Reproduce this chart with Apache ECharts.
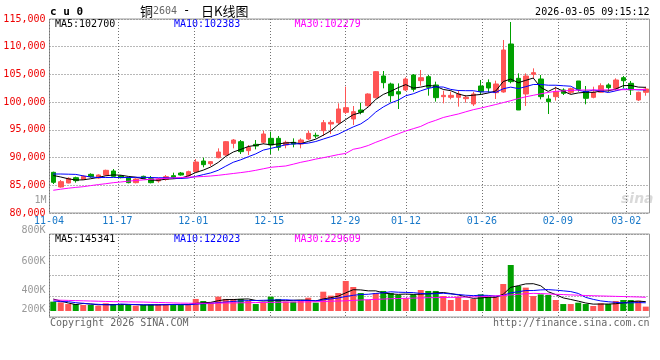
<!DOCTYPE html>
<html><head><meta charset="utf-8">
<script src="https://cdn.jsdelivr.net/npm/echarts@6/dist/echarts.min.js"></script>
<style>html,body{margin:0;padding:0;background:#fff}#c{width:660px;height:360px}</style>
</head><body><div id="c"></div>
<script>
// ---- data ----
const dates = ['11-04','11-05','11-06','11-07','11-10','11-11','11-12','11-13','11-14','11-17','11-18','11-19','11-20','11-21','11-24','11-25','11-26','11-27','11-28',
'12-01','12-02','12-03','12-04','12-05','12-08','12-09','12-10','12-11','12-12','12-15','12-16','12-17','12-18','12-19','12-22','12-23','12-24','12-25','12-26','12-29','12-30','12-31',
'01-05','01-06','01-07','01-08','01-09','01-12','01-13','01-14','01-15','01-16','01-19','01-20','01-21','01-22','01-23','01-26','01-27','01-28','01-29','01-30',
'02-02','02-03','02-04','02-05','02-06','02-09','02-10','02-11','02-12','02-13','02-24','02-25','02-26','02-27','03-02','03-03','03-04','03-05'];
const dateTicks = ['11-04','11-17','12-01','12-15','12-29','01-12','01-26','02-09','03-02'];

const opens  = [87337,84691,85412,86375,86074,86976,86315,86856,87577,86675,86315,85473,86615,86194,85773,86074,86735,87216,86735,87457,
89381,88900,89983,90464,92569,92869,91246,92388,92749,93471,93471,92268,92749,92448,93351,94012,94854,96057,96297,98161,
96959,98582,99364,100808,104717,103273,101890,102191,104897,103875,104596,103093,100989,100868,100868,100628,99666,102913,103514,101710,
101830,110490,104296,101470,105018,104176,100568,100989,102191,101770,103815,102010,100874,101776,103093,102492,104410,103400,100387,101776];
const closes = [85533,85653,86254,85833,86615,86555,86856,87698,86615,86375,85473,86134,86254,85473,86134,86555,86435,86856,87457,89201,
88720,89261,91005,92867,93170,91065,91847,92088,94253,92268,91847,92749,92448,93170,94373,93892,96297,96357,98763,99003,
98282,98161,101469,105499,103514,101168,101469,104175,102311,104416,102672,100808,101229,101229,101469,100868,101469,101891,102552,103274,
109408,103695,98583,104717,105318,100989,100086,101891,101596,102430,102312,100693,101776,102967,102612,103995,103869,102191,101776,102372];
const lows   = [85232,84571,85352,85473,85954,86375,86194,86735,86495,86254,85352,85352,86134,85352,85473,85833,86134,86735,86555,87277,
88239,88479,89863,90344,91667,90644,90464,91486,92448,90644,91246,91667,91847,91667,93170,93471,93892,94253,96057,97861,
95876,97801,99184,100687,102491,99966,98763,102010,101890,102973,101168,100086,99786,100508,99184,99906,99305,101289,101710,100568,
101710,103394,98583,99305,104296,100508,97861,100267,101289,101470,101891,99611,100693,101710,101891,102071,102498,101289,100207,101162];
const highs  = [87457,85954,86435,86555,86796,87156,86976,87818,87938,86856,86435,86254,86735,86675,86315,86856,87277,87397,87637,89742,
89983,89381,91667,92990,93350,93170,92268,93170,94854,94674,93892,93050,93471,93471,94854,94493,96778,96778,99785,102792,
99304,99905,101589,105618,105618,103514,103393,104476,105077,105799,104897,103694,102071,101891,102191,101289,101891,103995,104116,103875,
111212,114459,105198,105198,106100,104897,101289,102793,102492,102613,103815,102913,102787,103394,103394,104296,104717,103815,101885,102787];

const ma5  = [86766,86495,86170,85954,85978,86182,86423,86711,86868,86820,86603,86459,86170,85942,85894,86110,86170,86291,86687,87301,
87734,88299,89129,90211,91005,91474,91991,92207,92485,92304,92461,92641,92713,92496,92917,93326,94036,94818,95936,96862,
97740,98113,99136,100483,101385,101962,102624,103165,102527,102708,103009,102876,102287,102071,101481,101121,101253,101385,101650,102011,
103719,104164,103502,103935,104344,102660,101939,102600,101976,101398,101663,101784,101761,101996,102032,102369,102974,103018,102716,102668];
const ma10 = [87036,87036,87000,86964,86700,86500,86400,86400,86420,86399,86393,86441,86441,86405,86357,86357,86315,86230,86315,86597,
86922,87235,87710,88449,89153,89604,90145,90668,91348,91654,91967,92316,92460,92491,92611,92894,93339,93765,94216,94890,
95533,96075,96977,98210,99124,99851,100369,101150,101505,102046,102485,102750,102726,102299,102095,102065,102065,101836,101860,101746,
102420,102708,102444,102793,103178,103190,103051,103051,102956,102871,102162,101862,102181,102006,101735,102036,102367,102297,102215,102209];
const ma30 = [84096,84294,84475,84619,84745,84944,85124,85286,85467,85593,85737,85864,85972,86080,86170,86243,86333,86387,86459,86513,
86585,86676,86802,86964,87127,87289,87469,87704,87975,88245,88372,88480,88804,89147,89418,89725,89977,90248,90536,90753,
91493,91763,92178,92755,93261,93802,94289,94794,95209,95624,96273,96724,97230,97554,97861,98258,98637,98925,99250,99575,
99918,100260,100639,100964,101235,101505,101758,101956,102029,102119,102173,102191,102191,102191,102209,102227,102245,102263,102281,102281];

const volumes = [148000,141000,125000,125000,116000,116000,109000,132000,125000,116000,116000,109000,116000,122000,122000,122000,122000,116000,122000,174000,
154000,141000,196000,174000,174000,174000,154000,125000,141000,196000,174000,148000,148000,154000,186000,138000,244000,206000,231000,347000,
289000,231000,164000,231000,251000,231000,212000,180000,218000,260000,251000,251000,202000,164000,196000,164000,174000,218000,196000,196000,
318000,501000,299000,283000,202000,218000,212000,164000,125000,125000,138000,125000,106000,132000,125000,154000,164000,164000,157000,100000];
const volMa5 = [173000,154000,135000,120000,131000,125000,118000,120000,120000,120000,120000,120000,116000,116000,117000,118000,121000,121000,121000,131000,
138000,141000,157000,168000,168000,172000,174000,160000,154000,158000,158000,157000,161000,164000,162000,155000,174000,186000,201000,233000,
263000,261000,252000,252000,233000,222000,218000,221000,218000,220000,224000,232000,236000,226000,213000,195000,180000,183000,190000,190000,
220000,286000,302000,319000,321000,301000,243000,216000,184000,169000,153000,135000,124000,125000,125000,128000,136000,148000,153000,148000];
const volMa10 = [154000,148000,148000,138000,132000,125000,122000,118000,116000,125000,122000,119000,118000,118000,118000,119000,120000,119000,118000,124000,
128000,131000,139000,144000,150000,155000,158000,159000,161000,163000,165000,166000,161000,159000,160000,156000,165000,174000,183000,198000,
209000,217000,219000,227000,233000,243000,239000,237000,235000,227000,223000,225000,229000,222000,217000,210000,206000,210000,208000,201000,
208000,233000,243000,255000,255000,261000,264000,259000,252000,245000,227000,189000,170000,155000,147000,141000,136000,136000,139000,137000];
const volMa30 = [164000,162000,160000,158000,156000,154000,152000,150000,148000,147000,146000,145000,144000,142000,140000,138000,136000,134000,133000,132000,
132000,133000,134000,135000,136000,137000,138000,139000,140000,141000,142000,143000,144000,145000,146000,147000,149000,152000,154000,156000,
160000,164000,167000,170000,173000,176000,178000,180000,182000,184000,186000,187000,188000,189000,190000,192000,194000,196000,200000,204000,
208000,213000,219000,224000,228000,226000,222000,219000,216000,213000,210000,207000,205000,203000,201000,199000,197000,195000,193000,190000];

const priceAxis = {min: 80000, max: 115000, step: 5000};
const volAxis = {min: 0, max: 800000, step: 200000};
const volTickLabels = {800000: '800K', 600000: '600K', 400000: '400K', 200000: '200K'};
const mainLegend = ['MA5:102700', 'MA10:102383', 'MA30:102279'];
const volLegend  = ['MA5:145341', 'MA10:122023', 'MA30:229609'];

// ---- styling ----
const UP = '#ff5555', DOWN = '#00a000';
const F = 'DejaVu Sans Mono';
const L = 49.5, W = 600;
const MAIN_TOP = 19, MAIN_H = 194;
const VOL_TOP = 234, VOL_H = 83, VOLBAR_H = 77;
const volBarMin = volAxis.max - (volAxis.max - volAxis.min) * VOLBAR_H / VOL_H;
const lineColors = ['#000000', '#0000ff', '#ff00ff'];
const GRID_COLOR = '#707070';
const dotted = () => ({color: GRID_COLOR, width: 1, type: [1, 2]});
const tickFn = (idx, val) => dateTicks.indexOf(val) >= 0;

const chart = echarts.init(document.getElementById('c'), null, {renderer: 'canvas'});

const volRich = {};
const volPads = {800000: [0,0,7,0], 600000: [14,0,0,0], 400000: [29,0,0,0], 200000: [27,0,0,0]};
Object.keys(volTickLabels).forEach(k => {
  volRich['p' + (k/1000)] = {color: '#999', fontFamily: F, fontSize: 10, padding: volPads[k]};
});

function txt(x, y, text, fill, align, font) {
  return {type: 'text', x: x, y: y, silent: true,
    style: {text: text, fill: fill, font: font || ('10px "' + F + '"'),
      align: align || 'left', verticalAlign: 'middle', textAlign: align || 'left', textVerticalAlign: 'middle'}};
}

const option = {
  animation: false,
  grid: [
    {left: L, top: MAIN_TOP, width: W, height: MAIN_H, show: true, borderColor: '#999', borderWidth: 1},
    {left: L, top: VOL_TOP, width: W, height: VOL_H, show: true, borderColor: '#999', borderWidth: 1},
    {left: L, top: VOL_TOP, width: W, height: VOLBAR_H, show: false}
  ],
  xAxis: [
    {type: 'category', gridIndex: 0, position: 'bottom', data: dates, boundaryGap: true, show: false},
    {type: 'category', gridIndex: 0, position: 'bottom', data: dates, boundaryGap: false,
      axisLine: {show: false}, axisTick: {show: false},
      splitLine: {show: true, lineStyle: dotted()},
      axisLabel: {interval: tickFn, color: '#1878c8', fontFamily: F, fontSize: 10, margin: 3, padding: [0, 1, 0, 0]}},
    {type: 'category', gridIndex: 1, position: 'bottom', data: dates, boundaryGap: false,
      axisLine: {show: false}, axisTick: {show: false},
      splitLine: {show: true, lineStyle: dotted()},
      axisLabel: {interval: tickFn, color: 'rgba(0,0,0,0)', fontSize: 1}},
    {type: 'category', gridIndex: 2, position: 'bottom', data: dates, boundaryGap: true, show: false}
  ],
  yAxis: [
    {type: 'value', gridIndex: 0, min: priceAxis.min, max: priceAxis.max, interval: priceAxis.step,
      axisLine: {show: false}, axisTick: {show: false}, splitLine: {show: true, lineStyle: dotted()},
      axisLabel: {color: '#ee0000', fontFamily: F, fontSize: 10, margin: 4}},
    {type: 'value', gridIndex: 1, min: volAxis.min, max: volAxis.max, interval: volAxis.step,
      axisLine: {show: false}, axisTick: {show: false}, splitLine: {show: true, lineStyle: dotted()},
      axisLabel: {margin: 4, color: '#999', fontFamily: F, fontSize: 10,
        formatter: v => volTickLabels[v] ? '{p' + (v/1000) + '|' + volTickLabels[v] + '}' : '',
        rich: volRich}},
    {type: 'value', gridIndex: 2, min: volBarMin, max: volAxis.max, show: false}
  ],
  series: [
    {type: 'candlestick', xAxisIndex: 0, yAxisIndex: 0, barWidth: 5, z: 2,
      data: dates.map((d, i) => [opens[i], closes[i], lows[i], highs[i]]),
      itemStyle: {color: UP, color0: DOWN, borderColor: UP, borderColor0: DOWN, borderWidth: 1}},
    ...[ma5, ma10, ma30].map((d, k) => ({type: 'line', xAxisIndex: 0, yAxisIndex: 0, data: d, symbol: 'none', z: 3,
      silent: true, lineStyle: {color: lineColors[k], width: 1}})),
    {type: 'bar', xAxisIndex: 3, yAxisIndex: 2, barWidth: 6, z: 2,
      data: volumes.map((v, i) => ({value: v, itemStyle: {color: closes[i] >= opens[i] ? UP : DOWN}}))},
    ...[volMa5, volMa10, volMa30].map((d, k) => ({type: 'line', xAxisIndex: 3, yAxisIndex: 2, data: d, symbol: 'none', z: 3,
      silent: true, lineStyle: {color: lineColors[k], width: 1}}))
  ],
  graphic: [
    txt(50, 12, 'c u 0', '#000', 'left', 'bold 11px "' + F + '"'),
    txt(140, 11, '铜', '#000', 'left', '13px "Noto Sans CJK SC"'),
    txt(153, 11, '2604', '#666', 'left', '10px "' + F + '"'),
    txt(183, 11, '-', '#000', 'left', '12px "' + F + '"'),
    txt(201, 11, '日K线图', '#000', 'left', '13px "Noto Sans CJK SC"'),
    txt(649.5, 12, '2026-03-05 09:15:12', '#000', 'right'),
    txt(55, 24, mainLegend[0], lineColors[0]),
    txt(174, 24, mainLegend[1], lineColors[1]),
    txt(294.5, 24, mainLegend[2], lineColors[2]),
    txt(55, 239, volLegend[0], lineColors[0]),
    txt(174, 239, volLegend[1], lineColors[1]),
    txt(294.5, 239, volLegend[2], lineColors[2]),
    txt(46.5, 200, '1M', '#999', 'right'),
    txt(621, 199, 'sina', 'rgba(160,160,160,0.4)', 'left', 'italic bold 14px "DejaVu Sans"'),
    txt(50, 323.5, 'Copyright 2026 SINA.COM', '#666'),
    txt(649.5, 323.5, 'http://finance.sina.com.cn', '#666', 'right')
  ]
};
chart.setOption(option);
</script></body></html>
